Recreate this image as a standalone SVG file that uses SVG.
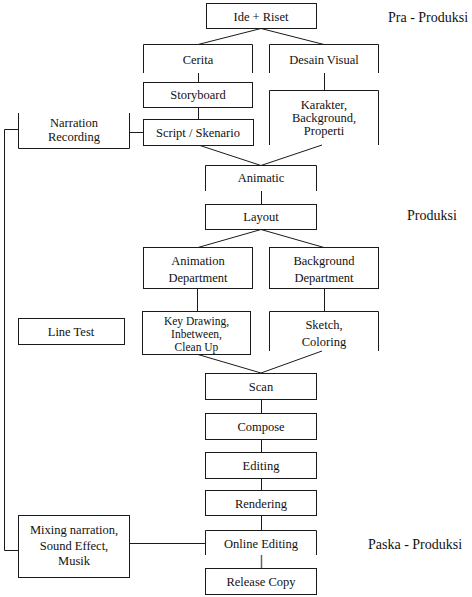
<svg xmlns="http://www.w3.org/2000/svg" width="472" height="597" viewBox="0 0 472 597" font-family="'Liberation Serif', Tinos, 'Times New Roman', 'DejaVu Serif', serif">
<style>
.b{fill:none;stroke:#1a1a1a;stroke-width:1}
.c{fill:none;stroke:#1a1a1a;stroke-width:1}
text{font-family:'Liberation Serif',Tinos,'Times New Roman','DejaVu Serif',serif}
.t{font-size:12.5px;fill:#111;text-anchor:middle}
.s{font-size:11.5px}
.l{font-size:14px;fill:#111}
</style>
<rect width="472" height="597" fill="#fff"/>
<g id="connectors">
<path class="c" d="M261 28.5L198 44.5M261 28.5L324 44.5"/>
<path class="c" d="M198.5 73V82.5M324.5 73V90.5M198.5 107.5V119.5"/>
<path class="c" d="M200 145.5L261 165.5M322 145L261 165.5"/>
<path class="c" d="M129.5 132.5H143.5M18.5 129.5H4.5V550.5H18.5"/>
<path class="c" d="M261.5 191V204.5"/>
<path class="c" d="M261 229.5L198 247.5M261 229.5L324 247.5"/>
<path class="c" d="M197.5 288.5V311.5M324.5 288.5V311.5"/>
<path class="c" d="M198 354.5L261 373M322 351L261 373"/>
<path class="c" d="M261.5 399.5V413.5M261.5 439.5V452.5M261.5 478.5V490.5M261.5 515.5V530.5"/>
<path class="c" d="M261.5 555V568.5" style="stroke:#666;stroke-width:1.5"/>
<path class="c" d="M129.5 543.5H205.5"/>
</g>
<g id="label-pra"><text class="l" x="388" y="22">Pra - Produksi</text></g>
<g id="label-produksi"><text class="l" x="407" y="220">Produksi</text></g>
<g id="label-paska"><text class="l" x="368" y="549">Paska - Produksi</text></g>
<g id="ide"><rect class="b" x="206.5" y="3.5" width="110" height="25"/><text class="t" x="261" y="20.5">Ide + Riset</text></g>
<g id="cerita"><path class="b" d="M143.5 73V44.5H252.5V73"/><text class="t" x="198" y="64">Cerita</text></g>
<g id="desain"><path class="b" d="M269.5 73V44.5H378.5V73"/><text class="t" x="324" y="64">Desain Visual</text></g>
<g id="storyboard"><rect class="b" x="143.5" y="82.5" width="109" height="25"/><text class="t" x="198" y="99">Storyboard</text></g>
<g id="karakter"><path class="b" d="M269.5 145V90.5H378.5V145"/><text class="t" x="324" y="109">Karakter,</text><text class="t" x="324" y="122">Background,</text><text class="t" x="324" y="135">Properti</text></g>
<g id="script"><rect class="b" x="143.5" y="119.5" width="110" height="26"/><text class="t" x="198" y="136.5">Script / Skenario</text></g>
<g id="narration"><path class="b" d="M18.5 113V148.5H129.5V113"/><text class="t" x="74" y="127">Narration</text><text class="t" x="74" y="141">Recording</text></g>
<g id="animatic"><path class="b" d="M205.5 191V165.5H316.5V191"/><text class="t" x="261" y="182">Animatic</text></g>
<g id="layout"><rect class="b" x="205.5" y="204.5" width="111" height="25"/><text class="t" x="261" y="221">Layout</text></g>
<g id="animation-dept"><rect class="b" x="143.5" y="247.5" width="109" height="41"/><text class="t" x="198" y="265">Animation</text><text class="t" x="198" y="282">Department</text></g>
<g id="background-dept"><rect class="b" x="269.5" y="247.5" width="109" height="41"/><text class="t" x="324" y="265">Background</text><text class="t" x="324" y="282">Department</text></g>
<g id="line-test"><rect class="b" x="18.5" y="318.5" width="106" height="26"/><text class="t" x="71" y="335.5">Line Test</text></g>
<g id="key-drawing"><rect class="b" x="142.5" y="311.5" width="108" height="43"/><text class="t s" x="196.5" y="325">Key Drawing,</text><text class="t s" x="196.5" y="338">Inbetween,</text><text class="t s" x="196.5" y="351">Clean Up</text></g>
<g id="sketch"><path class="b" d="M269.5 351V311.5H378.5V351"/><text class="t" x="324" y="329">Sketch,</text><text class="t" x="324" y="346">Coloring</text></g>
<g id="scan"><rect class="b" x="205.5" y="373.5" width="111" height="26"/><text class="t" x="261" y="391">Scan</text></g>
<g id="compose"><rect class="b" x="205.5" y="413.5" width="111" height="26"/><text class="t" x="261" y="431">Compose</text></g>
<g id="editing"><rect class="b" x="205.5" y="452.5" width="111" height="26"/><text class="t" x="261" y="470">Editing</text></g>
<g id="rendering"><rect class="b" x="205.5" y="490.5" width="111" height="25"/><text class="t" x="261" y="507.5">Rendering</text></g>
<g id="online-editing"><path class="b" d="M205.5 555V530.5H316.5V555"/><text class="t" x="261" y="548">Online Editing</text></g>
<g id="release-copy"><rect class="b" x="205.5" y="568.5" width="111" height="26"/><text class="t" x="261" y="586">Release Copy</text></g>
<g id="mixing"><rect class="b" x="18.5" y="515.5" width="111" height="62"/><text class="t" x="74" y="534">Mixing narration,</text><text class="t" x="74" y="550">Sound Effect,</text><text class="t" x="74" y="565">Musik</text></g>
</svg>
